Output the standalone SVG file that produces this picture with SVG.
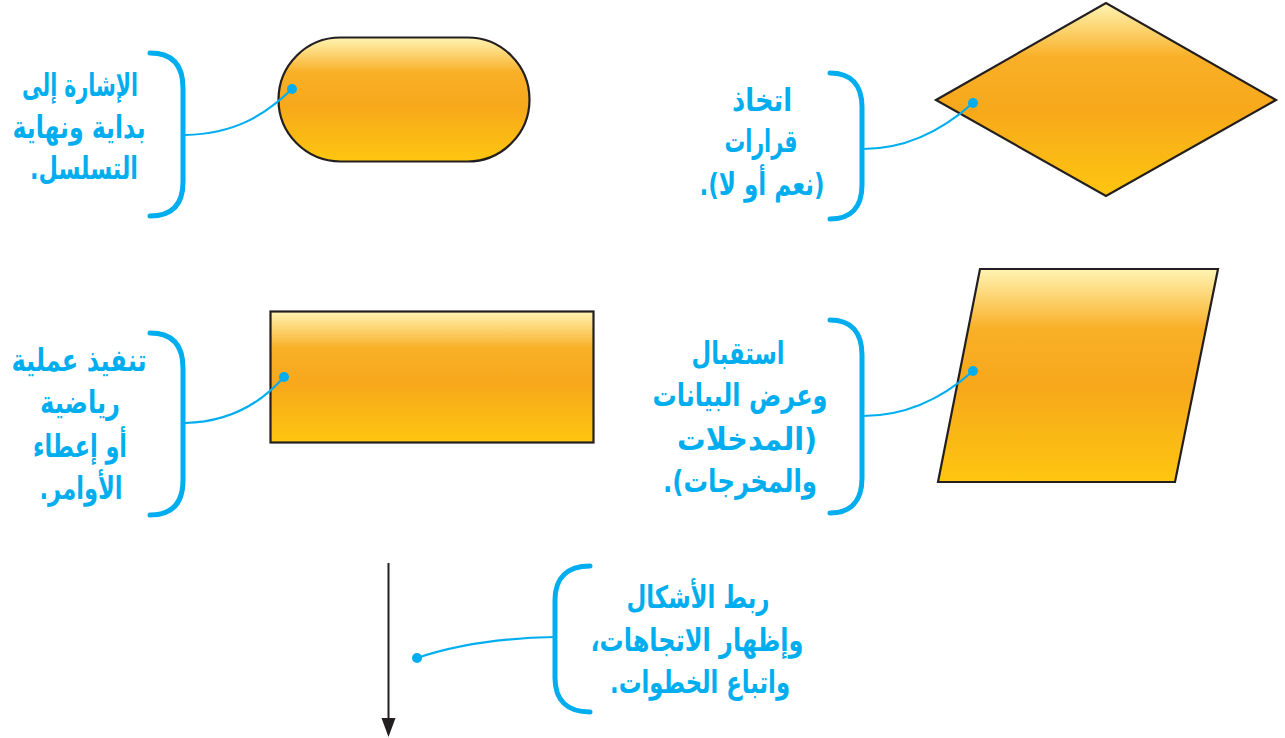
<svg xmlns="http://www.w3.org/2000/svg" width="1285" height="738" viewBox="0 0 1285 738">
<defs>
<linearGradient id="g" x1="0" y1="0" x2="0" y2="1">
<stop offset="0" stop-color="#FFF4B4"/>
<stop offset="0.28" stop-color="#F9B027"/>
<stop offset="0.55" stop-color="#F7A81B"/>
<stop offset="1" stop-color="#FEC610"/>
</linearGradient>
<style>
.shape{fill:url(#g);stroke:#231F20;stroke-width:2.2;stroke-linejoin:miter}
.br{fill:none;stroke:#00AEEF;stroke-width:5;stroke-linecap:round}
.cn{fill:none;stroke:#00AEEF;stroke-width:2.2}
.dot{fill:#00AEEF}
.t{font-family:"DejaVu Sans","Noto Sans",sans-serif;font-weight:bold;font-size:31px;fill:#00AEEF;text-anchor:middle;direction:rtl}
</style>
</defs>
<rect width="1285" height="738" fill="#ffffff"/>

<g id="terminal">
<rect class="shape" x="278.5" y="37.5" width="251" height="124" rx="62" ry="62"/>
</g>
<g id="decision">
<polygon class="shape" points="936,100 1106,3 1276,100 1106,196"/>
</g>
<g id="process">
<rect class="shape" x="270.5" y="311.5" width="323" height="131"/>
</g>
<g id="io">
<polygon class="shape" points="980,269 1218,269 1175,482 938,482"/>
</g>

<g id="connectors">
<line x1="388.5" y1="563" x2="388.5" y2="722" stroke="#231F20" stroke-width="2"/>
<polygon points="381.5,718 395.5,718 388.5,737" fill="#231F20"/>
<path class="cn" d="M185,135 C235,134 265,115 292,89"/>
<path class="cn" d="M863,149 C910,149 945,128 973,103"/>
<path class="cn" d="M185,423 C230,422 262,402 284,377"/>
<path class="cn" d="M863,416 C910,416 945,396 973,371"/>
<path class="cn" d="M555,637 C500,638 455,645 417,658"/>
<circle class="dot" cx="292" cy="89" r="5"/>
<circle class="dot" cx="973" cy="103" r="5"/>
<circle class="dot" cx="284" cy="377" r="5"/>
<circle class="dot" cx="973" cy="371" r="5"/>
<circle class="dot" cx="417" cy="658" r="5"/>
</g>

<g id="label-terminal">
<path class="br" d="M150,53 C172,53 183,65 183,88 L183,182 C183,205 172,216 150,216"/>
<text class="t" x="80" y="96" textLength="116" lengthAdjust="spacingAndGlyphs">الإشارة إلى</text>
<text class="t" x="79" y="138" textLength="133" lengthAdjust="spacingAndGlyphs">بداية ونهاية</text>
<text class="t" x="84" y="179" textLength="108" lengthAdjust="spacingAndGlyphs">التسلسل.</text>
</g>
<g id="label-decision">
<path class="br" d="M830,73 C851,73 862,85 862,107 L862,185 C862,207 851,219 830,219"/>
<text class="t" x="762" y="111" textLength="60" lengthAdjust="spacingAndGlyphs">اتخاذ</text>
<text class="t" x="761" y="152" textLength="73" lengthAdjust="spacingAndGlyphs">قرارات</text>
<text class="t" x="762" y="195" textLength="125" lengthAdjust="spacingAndGlyphs">(نعم أو لا).</text>
</g>
<g id="label-process">
<path class="br" d="M150,333 C172,333 183,345 183,368 L183,480 C183,503 172,515 150,515"/>
<text class="t" x="79" y="371" textLength="135" lengthAdjust="spacingAndGlyphs">تنفيذ عملية</text>
<text class="t" x="80" y="413" textLength="80" lengthAdjust="spacingAndGlyphs">رياضية</text>
<text class="t" x="80" y="457" textLength="94" lengthAdjust="spacingAndGlyphs">أو إعطاء</text>
<text class="t" x="81" y="499" textLength="83" lengthAdjust="spacingAndGlyphs">الأوامر.</text>
</g>
<g id="label-io">
<path class="br" d="M830,320 C851,320 862,332 862,355 L862,478 C862,501 851,513 830,513"/>
<text class="t" x="738" y="364" textLength="93" lengthAdjust="spacingAndGlyphs">استقبال</text>
<text class="t" x="740" y="406" textLength="175" lengthAdjust="spacingAndGlyphs">وعرض البيانات</text>
<text class="t" x="747" y="450" textLength="140" lengthAdjust="spacingAndGlyphs">(المدخلات</text>
<text class="t" x="740" y="492" textLength="154" lengthAdjust="spacingAndGlyphs">والمخرجات).</text>
</g>
<g id="label-flow">
<path class="br" d="M590,566 C567,566 555,578 555,600 L555,678 C555,700 567,712 590,712"/>
<text class="t" x="698" y="608" textLength="143" lengthAdjust="spacingAndGlyphs">ربط الأشكال</text>
<text class="t" x="697" y="651" textLength="213" lengthAdjust="spacingAndGlyphs">وإظهار الاتجاهات،</text>
<text class="t" x="700" y="693" textLength="180" lengthAdjust="spacingAndGlyphs">واتباع الخطوات.</text>
</g>
</svg>
